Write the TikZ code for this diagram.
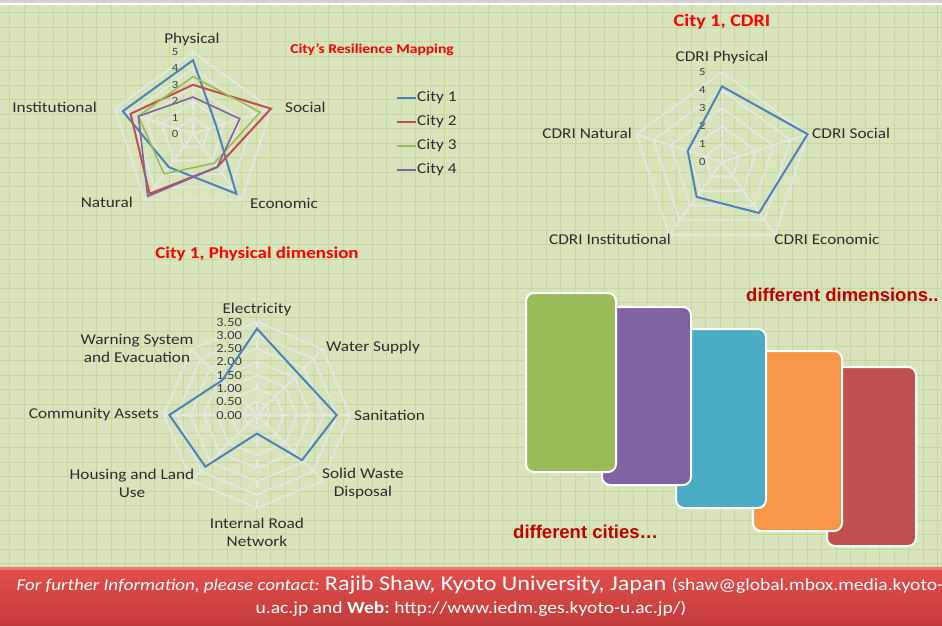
\documentclass[tikz,border=0pt]{standalone}
\usepackage{fontspec}
\setmainfont{Carlito}[FakeStretch=1.15]
\newfontfamily\notefont{Liberation Sans}
\usetikzlibrary{calc}

\definecolor{bgc}{HTML}{D8E4BC}
\definecolor{gridc}{HTML}{C5D8A0}
\definecolor{cblue}{HTML}{4F81BD}
\definecolor{cred}{HTML}{C0504D}
\definecolor{cgreen}{HTML}{9BBB59}
\definecolor{cpurple}{HTML}{8064A2}
\definecolor{cteal}{HTML}{4BACC6}
\definecolor{corange}{HTML}{F79646}
\definecolor{darkred}{HTML}{C00000}
\definecolor{foottop}{HTML}{E2504C}
\definecolor{footbot}{HTML}{C23B3B}

\begin{document}
\begin{tikzpicture}[x=1pt, y=1pt,
  web/.style = {draw=white!82!gray, line width=1.9pt, dash pattern=on 1.4pt off 0.7pt},
  lab/.style = {font=\fontsize{15}{18}\selectfont, text=black!82, inner sep=1pt},
  num/.style = {font=\fontsize{11}{11}\selectfont, text=black!75, inner sep=0pt},
  ttl/.style = {font=\bfseries\fontsize{16.5}{18}\selectfont, text=red},
  city1/.style = {draw=cblue, line width=2pt},
  city2/.style = {draw=cred, line width=2pt},
  city3/.style = {draw=cgreen, line width=1.6pt},
  city4/.style = {draw=cpurple, line width=1.6pt},
  card/.style = {draw=white, line width=2pt, rounded corners=8pt},
  note/.style = {font=\notefont\bfseries\fontsize{18.5}{20}\selectfont, text=darkred, anchor=west, inner sep=0pt},
  foot/.style = {text=white, inner sep=0pt}]

\useasboundingbox (0,0) rectangle (942,-625);
\fill[bgc] (0,0) rectangle (942,-625);
\foreach \gx in {9.7,24.2,...,942}
  \draw[gridc, line width=0.8pt] (\gx,-5) -- (\gx,-567);
\foreach \gy in {12.5,27,...,567}
  \draw[gridc, line width=0.8pt] (0,-\gy) -- (942,-\gy);
\fill[gray!35] (0,0) rectangle (942,-3);
\fill[white] (0,-3) rectangle (942,-5);

% resilience mapping
\begin{scope}[shift={(193,-134)}, x=16.4pt, y=16.4pt]
  \foreach \r in {1,...,5}
    \draw[web] (90:\r) -- (18:\r) -- (-54:\r) -- (-126:\r) -- (162:\r) -- cycle;
  \foreach \a in {90,18,-54,-126,162}
    \draw[web] (0,0) -- (\a:5);
  \foreach \v in {0,...,5}
    \node[num] (ra\v) at (-1.1,\v) {\v};
  \draw[city1] (90:4.5) -- (18:1.5) -- (-54:4.5) -- (-126:2.5) -- (162:4.5) -- cycle;
  \draw[city2] (90:3) -- (18:5) -- (-54:2.5) -- (-126:4.5) -- (162:4) -- cycle;
  \draw[city3] (90:3.5) -- (18:4.3) -- (-54:2.2) -- (-126:3) -- (162:3.5) -- cycle;
  \draw[city4] (90:2.25) -- (18:3) -- (-54:2.5) -- (-126:4.7) -- (162:3.5) -- cycle;
\end{scope}
\node[lab] (phys) at (192,-39) {Physical};
\node[lab, anchor=west] (soc) at (284,-107) {Social};
\node[lab, anchor=east] (inst) at (98,-107) {Institutional};
\node[lab, anchor=east] (nat) at (134,-202) {Natural};
\node[lab, anchor=west] (eco) at (249,-203) {Economic};
\node[ttl, font=\bfseries\fontsize{13.5}{15}\selectfont] (t1) at (372,-50) {City's Resilience Mapping};
\node[lab, anchor=west] (l1) at (416,-98) {City 1};
\node[lab, anchor=west] (l2) at (416,-122) {City 2};
\node[lab, anchor=west] (l3) at (416,-146) {City 3};
\node[lab, anchor=west] (l4) at (416,-170) {City 4};
\draw[city1, line width=2.6pt] (l1.west) -- ++(-19,0);
\draw[city2, line width=2.6pt] (l2.west) -- ++(-19,0);
\draw[city3, line width=2.6pt] (l3.west) -- ++(-19,0);
\draw[city4] (l4.west) -- ++(-19,0);

% city 1, CDRI
\begin{scope}[shift={(722,-162)}, x=18pt, y=18pt]
  \foreach \r in {1,...,5}
    \draw[web] (90:\r) -- (18:\r) -- (-54:\r) -- (-126:\r) -- (162:\r) -- cycle;
  \foreach \a in {90,18,-54,-126,162}
    \draw[web] (0,0) -- (\a:5);
  \foreach \v in {0,...,5}
    \node[num] (rb\v) at (-1.1,\v) {\v};
  \draw[city1] (90:4.2) -- (18:5) -- (-54:3.5) -- (-126:2.4) -- (162:2) -- cycle;
\end{scope}
\node[ttl, font=\bfseries\fontsize{17.5}{19}\selectfont] (t2) at (722,-22) {City 1, CDRI};
\node[lab] (cphys) at (722,-57) {CDRI Physical};
\node[lab, anchor=west] (csoc) at (811,-133) {CDRI Social};
\node[lab, anchor=east] (cnat) at (633,-133) {CDRI Natural};
\node[lab] (cinst) at (610,-239) {CDRI Institutional};
\node[lab] (ceco) at (827,-239) {CDRI Economic};

% city 1, physical dimension
\begin{scope}[shift={(257,-415)}, x=26.57pt, y=26.57pt]
  \foreach \r in {0.5,1,...,3.5}
    \draw[web] (0:\r) \foreach \a in {45,90,...,315} {-- (\a:\r)} -- cycle;
  \foreach \a in {0,45,...,315}
    \draw[web] (0,0) -- (\a:3.5);
  \foreach \v [count=\i from 0] in {0.00,0.50,1.00,1.50,2.00,2.50,3.00,3.50}
    \node[num, font=\fontsize{12.5}{12.5}\selectfont] (rc\i) at (-1.05,{\i*0.5}) {\v};
  \draw[city1] (90:3.25) -- (45:2.2) -- (0:3) -- (-45:2.4) -- (-90:0.7) -- (-135:2.75) -- (180:3.3) -- (135:1.85) -- cycle;
\end{scope}
\node[ttl] (t3) at (257,-254) {City 1, Physical dimension};
\node[lab] (elec) at (257,-309) {Electricity};
\node[lab, anchor=west] (water) at (325,-347) {Water Supply};
\node[lab, anchor=west] (sani) at (353,-415) {Sanitation};
\node[lab, align=center] (solid) at (363,-483) {Solid Waste\\Disposal};
\node[lab, align=center] (road) at (257,-532) {Internal Road\\Network};
\node[lab, align=center] (house) at (132,-483) {Housing and Land\\Use};
\node[lab, anchor=east] (comm) at (160,-415) {Community Assets};
\node[lab, align=center] (warn) at (137,-348) {Warning System\\and Evacuation};

% cities and dimensions
\draw[card, fill=cred] (827,-367) rectangle (916,-546);
\draw[card, fill=corange] (753,-351) rectangle (842,-531);
\draw[card, fill=cteal] (676,-329) rectangle (766,-508);
\draw[card, fill=cpurple] (602,-307) rectangle (691,-485);
\draw[card, fill=cgreen] (526,-293) rectangle (616,-472);
\node[note] (dims) at (746,-295) {different dimensions..};
\node[note] (cities) at (513,-532) {different cities…};

% footer
\shade[top color=foottop, bottom color=footbot] (0,-567) rectangle (942,-625);
\fill[red!45!white, opacity=0.6] (0,-567) rectangle (942,-570);
\node[foot] (f1) at (480,-585) {{\itshape\fontsize{16.5}{18}\selectfont For further Information, please contact:}\ \ {\fontsize{21}{22}\selectfont Rajib Shaw, Kyoto University, Japan}\ \ {\fontsize{17}{18}\selectfont (shaw@global.mbox.media.kyoto-}};
\node[foot, font=\fontsize{17}{18}\selectfont] (f2) at (471,-609) {u.ac.jp and \textbf{Web:}\ http://www.iedm.ges.kyoto-u.ac.jp/)};
\end{tikzpicture}
\end{document}
